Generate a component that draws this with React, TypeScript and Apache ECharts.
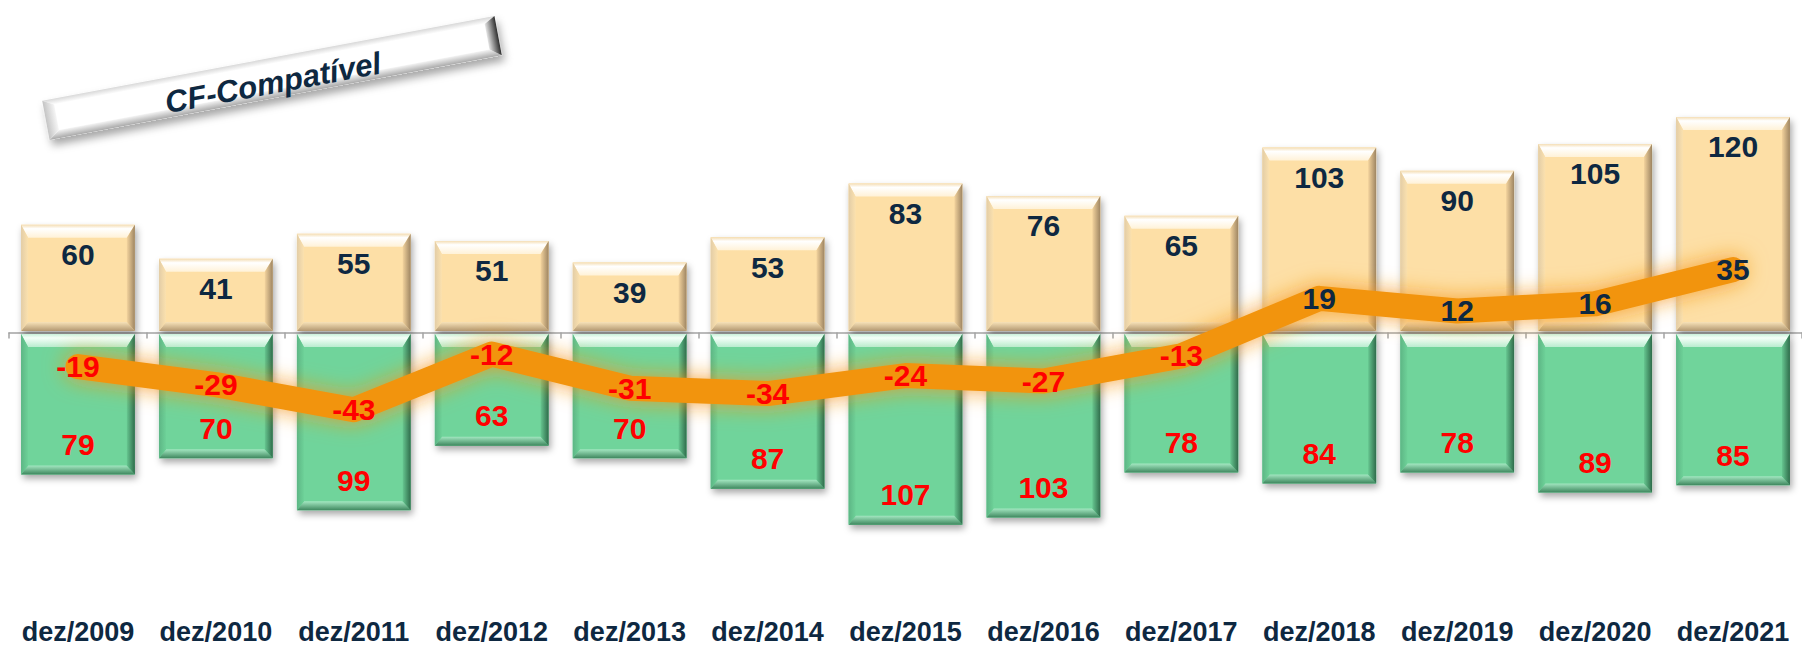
import React, { useEffect, useRef } from "react";
import * as echarts from "echarts";

const categories = [
  "dez/2009", "dez/2010", "dez/2011", "dez/2012", "dez/2013", "dez/2014", "dez/2015",
  "dez/2016", "dez/2017", "dez/2018", "dez/2019", "dez/2020", "dez/2021",
];
const receitas = [60, 41, 55, 51, 39, 53, 83, 76, 65, 103, 90, 105, 120];
const despesas = [79, 70, 99, 63, 70, 87, 107, 103, 78, 84, 78, 89, 85];
const saldo = [-19, -29, -43, -12, -31, -34, -24, -27, -13, 19, 12, 16, 35];
const badgeText = "CF-Compatível";

const NAVY = "#0E2841";
const RED = "#FF0000";
const FONT = '"Liberation Sans", Arial, sans-serif';

const lin = (x: number, y: number, x2: number, y2: number, stops: [number, string][]) => ({
  type: "linear",
  x,
  y,
  x2,
  y2,
  colorStops: stops.map(([offset, color]) => ({ offset, color })),
});

type Pal = {
  base: string;
  top: [number, string][];
  left: [number, string][];
  right: [number, string][];
  bottom: [number, string][];
  text: string;
};

const orangePal: Pal = {
  base: "#FDDFA6",
  top: [[0, "#F4DDB3"], [0.3, "#FFFFFF"], [1, "#FFF2D8"]],
  left: [[0, "#E3CDA6"], [1, "#FBE1AE"]],
  right: [[0, "#F3D39D"], [1, "#9E8562"]],
  bottom: [[0, "#F7E2B8"], [1, "#B39871"]],
  text: NAVY,
};
const greenPal: Pal = {
  base: "#6FD49B",
  top: [[0, "#C9F0DA"], [0.3, "#F4FFF8"], [1, "#B9ECCF"]],
  left: [[0, "#5DB685"], [1, "#6DD198"]],
  right: [[0, "#66C690"], [1, "#2F6C4B"]],
  bottom: [[0, "#A3E7C1"], [1, "#3E875E"]],
  text: RED,
};

function makeRender(pal: Pal, labels: number[], up: boolean) {
  return (params: any, api: any) => {
    const idx = api.value(0);
    const v = api.value(1);
    const p0 = api.coord([idx, 0]);
    const p1 = api.coord([idx, v]);
    const bw = api.size([1, 0])[0] * 0.825;
    const x0 = p0[0] - bw / 2;
    const x1 = p0[0] + bw / 2;
    const top = up ? p1[1] : p0[1] + 1.5;
    const bot = up ? p0[1] - 1.5 : p1[1];
    const bt = 13, bb = 9, bl = 7, br = 8;
    const label = String(labels[params.dataIndex]);
    return {
      type: "group",
      children: [
        {
          type: "rect",
          shape: { x: x0, y: top, width: x1 - x0, height: bot - top },
          style: {
            fill: pal.base,
            shadowBlur: 7,
            shadowOffsetX: 2,
            shadowOffsetY: 4,
            shadowColor: "rgba(0,0,0,0.35)",
          },
        },
        {
          type: "polygon",
          shape: { points: [[x0, top], [x1, top], [x1 - br, top + bt], [x0 + bl, top + bt]] },
          style: { fill: lin(0, 0, 0, 1, pal.top) },
        },
        {
          type: "polygon",
          shape: { points: [[x0, bot], [x1, bot], [x1 - br, bot - bb], [x0 + bl, bot - bb]] },
          style: { fill: lin(0, 0, 0, 1, pal.bottom) },
        },
        {
          type: "polygon",
          shape: { points: [[x0, top], [x0 + bl, top + bt], [x0 + bl, bot - bb], [x0, bot]] },
          style: { fill: lin(0, 0, 1, 0, pal.left) },
        },
        {
          type: "polygon",
          shape: { points: [[x1, top], [x1 - br, top + bt], [x1 - br, bot - bb], [x1, bot]] },
          style: { fill: lin(0, 0, 1, 0, pal.right) },
        },
        {
          type: "text",
          x: p0[0],
          y: up ? top + 30 : bot - 30,
          style: {
            text: label,
            fill: pal.text,
            font: `bold 30px ${FONT}`,
            align: "center",
            verticalAlign: "middle",
          },
        },
      ],
    };
  };
}

export default function App() {
  const ref = useRef<HTMLDivElement>(null);
  useEffect(() => {
    if (!ref.current) return;
    const chart = echarts.init(ref.current, undefined, { renderer: "svg" });
    const bw = 460, bh = 40, e = 11;
    const option: any = {
      animation: false,
      backgroundColor: "#FFFFFF",
      grid: { left: 9, top: 81, width: 1807, height: 504 },
      xAxis: [
        {
          type: "category",
          data: categories,
          position: "bottom",
          axisLine: { show: true, onZero: true, lineStyle: { color: "#A3A3A3", width: 1.5 } },
          axisTick: { show: true, length: 6, interval: 0, lineStyle: { color: "#A3A3A3", width: 1.5 } },
          axisLabel: { show: false },
          splitLine: { show: false },
          z: 1,
        },
        {
          type: "category",
          data: categories,
          position: "bottom",
          axisLine: { show: false, onZero: false },
          axisTick: { show: false },
          axisLabel: {
            show: true,
            interval: 0,
            margin: 34,
            color: NAVY,
            fontSize: 27,
            fontWeight: "bold",
            fontFamily: FONT,
          },
        },
      ],
      yAxis: { type: "value", min: -140, max: 140, show: false, splitLine: { show: false } },
      series: [
        {
          type: "custom",
          name: "Receitas",
          xAxisIndex: 0,
          data: receitas.map((v, i) => [i, v]),
          encode: { x: 0, y: 1 },
          renderItem: makeRender(orangePal, receitas, true),
          z: 2,
        },
        {
          type: "custom",
          name: "Despesas",
          xAxisIndex: 0,
          data: despesas.map((v, i) => [i, -v]),
          encode: { x: 0, y: 1 },
          renderItem: makeRender(greenPal, despesas, false),
          z: 2,
        },
        {
          type: "line",
          name: "Saldo",
          xAxisIndex: 0,
          data: saldo.map((v) => ({ value: v, label: { color: v < 0 ? RED : NAVY } })),
          symbol: "circle",
          symbolSize: 1,
          itemStyle: { color: "rgba(0,0,0,0)" },
          lineStyle: {
            color: "#F29411",
            width: 25,
            cap: "round",
            join: "round",
            shadowBlur: 22,
            shadowColor: "rgba(245,150,20,0.85)",
          },
          label: {
            show: true,
            position: "inside",
            fontSize: 30,
            fontWeight: "bold",
            fontFamily: FONT,
          },
          z: 3,
        },
      ],
      graphic: [
        {
          type: "group",
          x: 272,
          y: 78,
          rotation: 0.185,
          children: [
            {
              type: "rect",
              shape: { x: -bw / 2, y: -bh / 2, width: bw, height: bh },
              style: {
                fill: "#FFFFFF",
                shadowBlur: 9,
                shadowOffsetX: 2,
                shadowOffsetY: 6,
                shadowColor: "rgba(0,0,0,0.35)",
              },
            },
            {
              type: "polygon",
              shape: { points: [[-bw / 2, -bh / 2], [bw / 2, -bh / 2], [bw / 2 - e, -bh / 2 + 6], [-bw / 2 + e, -bh / 2 + 6]] },
              style: { fill: lin(0, 0, 0, 1, [[0, "#D8D8D8"], [1, "#FFFFFF"]]) },
            },
            {
              type: "polygon",
              shape: { points: [[-bw / 2, bh / 2], [bw / 2, bh / 2], [bw / 2 - e, bh / 2 - 8], [-bw / 2 + e, bh / 2 - 8]] },
              style: { fill: lin(0, 0, 0, 1, [[0, "#F4F4F4"], [1, "#A8A8A8"]]) },
            },
            {
              type: "polygon",
              shape: { points: [[-bw / 2, -bh / 2], [-bw / 2 + e, -bh / 2 + 6], [-bw / 2 + e, bh / 2 - 8], [-bw / 2, bh / 2]] },
              style: { fill: lin(0, 0, 1, 0, [[0, "#C4C4C4"], [1, "#F6F6F6"]]) },
            },
            {
              type: "polygon",
              shape: { points: [[bw / 2, -bh / 2], [bw / 2 - e, -bh / 2 + 6], [bw / 2 - e, bh / 2 - 8], [bw / 2, bh / 2]] },
              style: { fill: lin(0, 0, 1, 0, [[0, "#E6E6E6"], [1, "#2E2E2E"]]) },
            },
            {
              type: "text",
              x: 0,
              y: 5,
              style: {
                text: badgeText,
                fill: NAVY,
                font: `italic bold 31px ${FONT}`,
                align: "center",
                verticalAlign: "middle",
              },
            },
          ],
        },
      ],
    };
    chart.setOption(option);
    return () => chart.dispose();
  }, []);
  return (
    <div
      ref={ref}
      style={{ position: "absolute", left: 0, top: 0, width: 1802, height: 645, background: "#FFFFFF" }}
    />
  );
}
